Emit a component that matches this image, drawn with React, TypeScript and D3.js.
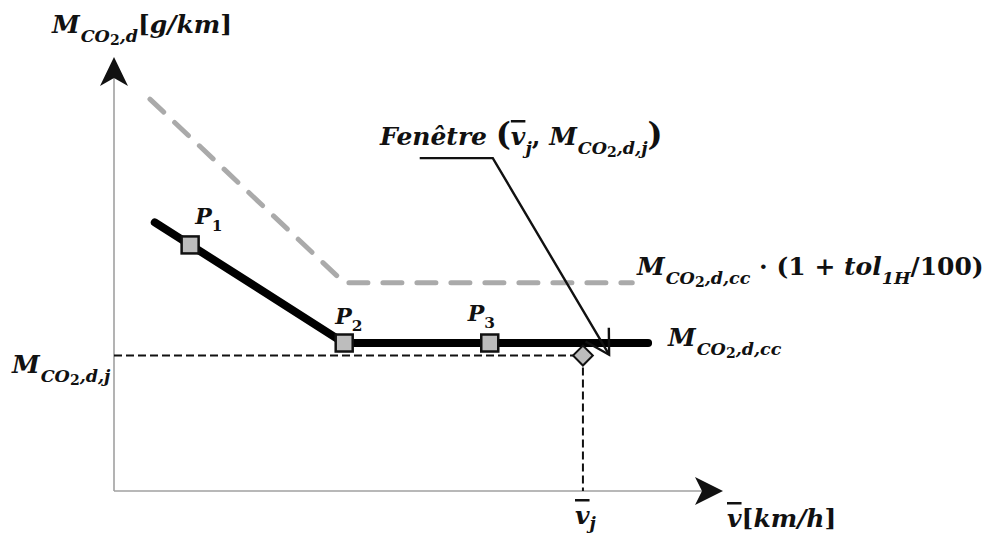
import React from 'react';
import * as d3 from 'd3';

const W = 986;
const H = 534;

// tolerance limit (grey dashed) : speed / CO2 values
const limitSpeed = [0.59, 3.78, 8.51];
const limitCo2 = [9.03, 4.8, 4.8];
// characteristic curve (thick black)
const curveSpeed = [0.67, 3.78, 8.77];
const curveCo2 = [6.19, 3.41, 3.41];
// points P1..P3
const pointNames = ['1', '2', '3'];
const pointSpeed = [1.25, 3.78, 6.17];
const pointCo2 = [5.67, 3.41, 3.41];
// window (v_j, M_j)
const windowSpeed = 7.7;
const windowCo2 = 3.12;
// leader line of the "Fenêtre" annotation
const leaderSpeed = [5.02, 6.22, 8.13];
const leaderCo2 = [7.67, 7.67, 3.14];

type Seg = { t: string; sub?: boolean; it?: boolean; over?: boolean; fs?: number; dx?: number; ddy?: number };

const FONT = '"DejaVu Serif", "Liberation Serif", serif';

function Rich({ x, y, segs, size, shiftK = 0.34 }: { x: number; y: number; segs: Seg[]; size: number; shiftK?: number }) {
  let inSub = false;
  const shift = size * shiftK;
  return (
    <text x={x} y={y} fontFamily={FONT} fontWeight="bold" fontSize={size} fill="#111">
      {segs.map((s, i) => {
        let dy = s.ddy ?? 0;
        if (s.sub && !inSub) { dy += shift; inSub = true; }
        else if (!s.sub && inSub) { dy -= shift; inSub = false; }
        return (
          <tspan
            key={i}
            dy={dy || undefined}
            dx={s.dx}
            fontSize={s.fs ?? (s.sub ? size * 0.7 : size)}
            fontStyle={s.it ? 'italic' : 'normal'}
            textDecoration={s.over ? 'overline' : undefined}
          >
            {s.t}
          </tspan>
        );
      })}
    </text>
  );
}

// M with subscript CO2 (the 2 sits a bit lower, as a second-level index)
const co2 = (tail: string): Seg[] => [
  { t: 'M', it: true },
  { t: 'CO', sub: true, it: true, dx: 1 },
  { t: '2', sub: true, fs: 14, ddy: 3 },
  { t: tail, sub: true, it: true, ddy: -3 },
];

const topLabel: Seg[] = [...co2(',d'), { t: '[' }, { t: 'g/km', it: true }, { t: ']' }];
const leftLabel: Seg[] = co2(',d,j');
const ccLabel: Seg[] = co2(',d,cc');
const tolLabel: Seg[] = [
  ...co2(',d,cc'),
  { t: ' · (1 + ' },
  { t: 'tol', it: true },
  { t: '1H', sub: true, it: true },
  { t: '/100)' },
];
const windowLabel: Seg[] = [
  { t: 'Fenêtre ', it: true },
  { t: '(', fs: 32 },
  { t: 'v', it: true, over: true },
  { t: 'j', sub: true, it: true },
  { t: ', ' },
  ...co2(',d,j'),
  { t: ')', fs: 32 },
];
const vjLabel: Seg[] = [{ t: 'v', it: true, over: true }, { t: 'j', sub: true, it: true }];
const xLabel: Seg[] = [{ t: 'v', it: true, over: true }, { t: '[' }, { t: 'km/h', it: true }, { t: ']' }];

export default function App() {
  const x = d3.scaleLinear().domain([0, 10]).range([114, 723]);
  const y = d3.scaleLinear().domain([0, 10]).range([491, 57]);
  const line = d3.line<[number, number]>().x(d => x(d[0])).y(d => y(d[1]));

  const limit = limitSpeed.map((v, i) => [v, limitCo2[i]] as [number, number]);
  const curve = curveSpeed.map((v, i) => [v, curveCo2[i]] as [number, number]);
  const leader = leaderSpeed.map((v, i) => [v, leaderCo2[i]] as [number, number]);

  // leader arrowhead
  const n = leader.length;
  const tx = x(leader[n - 1][0]), ty = y(leader[n - 1][1]);
  const ang = Math.atan2(ty - y(leader[n - 2][1]), tx - x(leader[n - 2][0])) + Math.PI;
  const arm = 27;
  const a1 = ang + Math.PI / 6, a2 = ang - Math.PI / 6;
  const headPath = `M${tx + arm * Math.cos(a1)},${ty + arm * Math.sin(a1)}L${tx},${ty}L${tx + arm * Math.cos(a2)},${ty + arm * Math.sin(a2)}`;

  const x0 = x(0), y0 = y(0), yTop = y(10), xEnd = x(10);
  const sq = 17;

  return (
    <svg width={W} height={H} style={{ position: 'absolute', left: 0, top: 0, background: '#fff' }}>
      {/* axes */}
      <line x1={x0} y1={y0} x2={x0} y2={yTop + 10} stroke="#a0a0a0" strokeWidth={1.6} />
      <line x1={x0} y1={y0} x2={xEnd - 10} y2={y0} stroke="#a0a0a0" strokeWidth={1.6} />
      <path d={`M${x0},${yTop}L${x0 + 14},${yTop + 29}L${x0},${yTop + 21}L${x0 - 14},${yTop + 29}Z`} fill="#111" />
      <path d={`M${xEnd},${y0}L${xEnd - 28},${y0 - 14}L${xEnd - 21},${y0}L${xEnd - 28},${y0 + 14}Z`} fill="#111" />

      {/* tolerance limit */}
      <path d={line(limit) ?? ''} fill="none" stroke="#aaa" strokeWidth={5} strokeDasharray="19 15" strokeLinecap="round" />

      {/* guides to the window */}
      <line x1={x0} y1={y(windowCo2)} x2={x(windowSpeed)} y2={y(windowCo2)} stroke="#111" strokeWidth={2} strokeDasharray="8 4" />
      <line x1={x(windowSpeed)} y1={y(windowCo2)} x2={x(windowSpeed)} y2={y0} stroke="#111" strokeWidth={2} strokeDasharray="8 4" />

      {/* characteristic curve */}
      <path d={line(curve) ?? ''} fill="none" stroke="#000" strokeWidth={8} strokeLinecap="round" strokeLinejoin="round" />

      {/* leader */}
      <path d={line(leader) ?? ''} fill="none" stroke="#111" strokeWidth={2.4} />
      <path d={headPath} fill="none" stroke="#111" strokeWidth={2.4} />

      {/* points */}
      {pointSpeed.map((v, i) => (
        <rect key={i} x={x(v) - sq / 2} y={y(pointCo2[i]) - sq / 2} width={sq} height={sq}
          fill="#bdbdbd" stroke="#111" strokeWidth={2.5} />
      ))}
      <rect x={x(windowSpeed) - 7} y={y(windowCo2) - 7} width={14} height={14}
        transform={`rotate(45 ${x(windowSpeed)} ${y(windowCo2)})`} fill="#bdbdbd" stroke="#111" strokeWidth={2} />

      {/* point labels */}
      {pointNames.map((p, i) => {
        const off = [[5, -21], [-9, -19], [-22, -22]][i];
        return (
          <Rich key={p} x={x(pointSpeed[i]) + off[0]} y={y(pointCo2[i]) + off[1]} size={22} shiftK={0.3}
            segs={[{ t: 'P', it: true }, { t: p, sub: true }]} />
        );
      })}

      {/* labels */}
      <Rich x={52} y={33} size={25} segs={topLabel} />
      <Rich x={380} y={145} size={25} segs={windowLabel} />
      <Rich x={637} y={275} size={25} segs={tolLabel} />
      <Rich x={668} y={346} size={25} segs={ccLabel} />
      <Rich x={12} y={373} size={25} segs={leftLabel} />
      <Rich x={575} y={524} size={25} shiftK={0.2} segs={vjLabel} />
      <Rich x={727} y={527} size={25} segs={xLabel} />
    </svg>
  );
}
